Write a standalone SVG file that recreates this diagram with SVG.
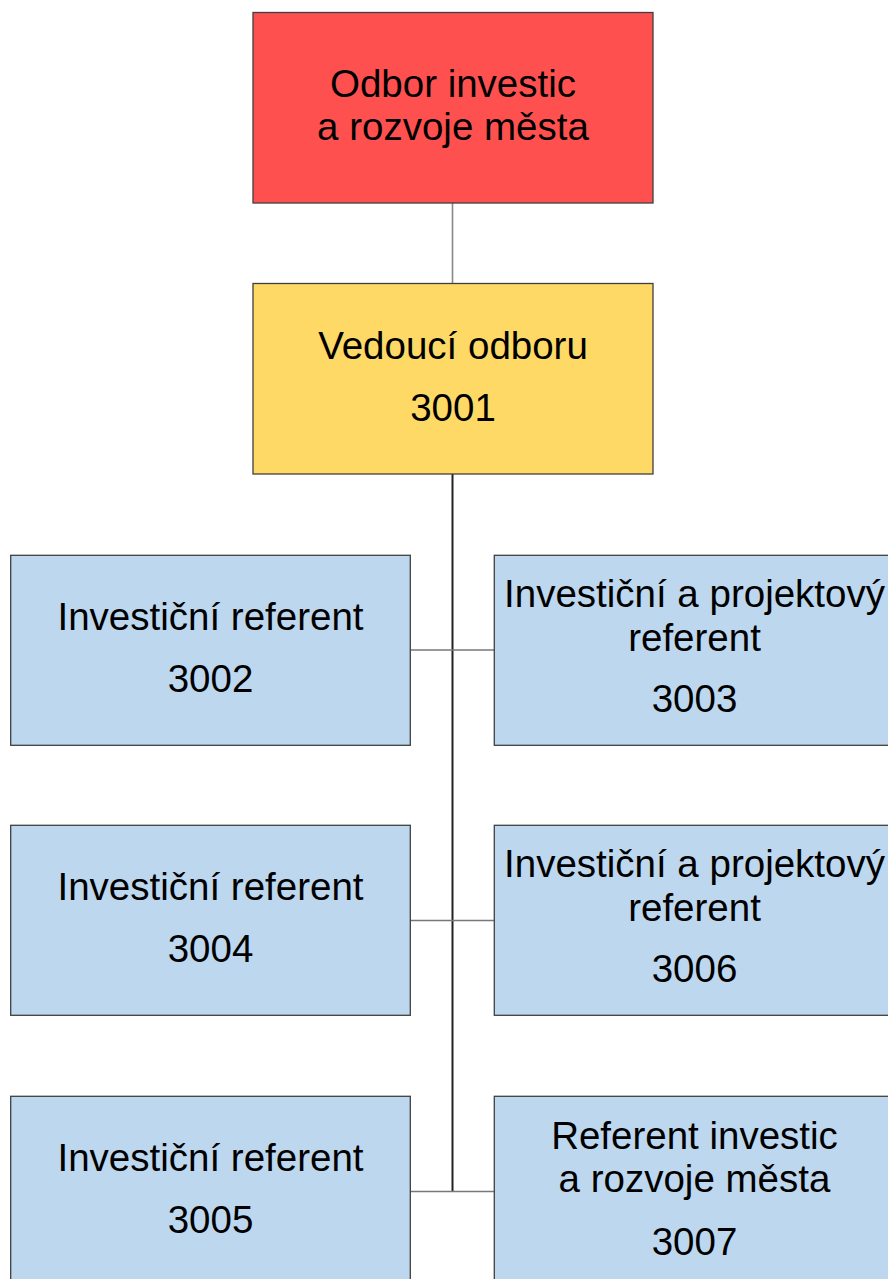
<svg xmlns="http://www.w3.org/2000/svg" width="888" height="1279" viewBox="0 0 888 1279">
<style>
.box{stroke:#3f3f3f;stroke-width:1.3}
.red{fill:#FF5050}
.yel{fill:#FFD966}
.blue{fill:#BDD7EE}
text{font-family:"Liberation Sans",Arial,sans-serif;font-size:38.5px;fill:#000;text-anchor:middle}
.c1{stroke:#888;stroke-width:1.6;fill:none}
.c2{stroke:#222;stroke-width:2;fill:none}
.c3{stroke:#777;stroke-width:1.6;fill:none}
</style>
<rect width="888" height="1279" fill="#fff"/>
<g id="connectors">
<line class="c1" x1="452.5" y1="203" x2="452.5" y2="283"/>
<line class="c2" x1="452.5" y1="474" x2="452.5" y2="1192"/>
<line class="c3" x1="410" y1="650" x2="494" y2="650"/>
<line class="c3" x1="410" y1="920.5" x2="494" y2="920.5"/>
<line class="c3" x1="410" y1="1191.5" x2="494" y2="1191.5"/>
</g>
<g id="n3000">
<rect class="box red" x="253" y="12.5" width="400" height="190.5"/>
<text x="453" y="97">Odbor investic</text>
<text x="453" y="140">a rozvoje města</text>
</g>
<g id="n3001">
<rect class="box yel" x="253" y="283.5" width="400" height="190.5"/>
<text x="453" y="359">Vedoucí odboru</text>
<text x="453" y="421">3001</text>
</g>
<g id="n3002">
<rect class="box blue" x="10.7" y="555.3" width="399.6" height="190"/>
<text x="210.5" y="630">Investiční referent</text>
<text x="210.5" y="692">3002</text>
</g>
<g id="n3003">
<rect class="box blue" x="494.3" y="555.3" width="400" height="190"/>
<text x="694.5" y="607">Investiční a projektový</text>
<text x="694.5" y="651">referent</text>
<text x="694.5" y="712">3003</text>
</g>
<g id="n3004">
<rect class="box blue" x="10.7" y="825.3" width="399.6" height="190"/>
<text x="210.5" y="900">Investiční referent</text>
<text x="210.5" y="962">3004</text>
</g>
<g id="n3006">
<rect class="box blue" x="494.3" y="825.3" width="400" height="190"/>
<text x="694.5" y="877">Investiční a projektový</text>
<text x="694.5" y="921">referent</text>
<text x="694.5" y="982">3006</text>
</g>
<g id="n3005">
<rect class="box blue" x="10.7" y="1096.3" width="399.6" height="190"/>
<text x="210.5" y="1171">Investiční referent</text>
<text x="210.5" y="1233">3005</text>
</g>
<g id="n3007">
<rect class="box blue" x="494.3" y="1096.3" width="400" height="190"/>
<text x="694.5" y="1149">Referent investic</text>
<text x="694.5" y="1192">a rozvoje města</text>
<text x="694.5" y="1255">3007</text>
</g>
</svg>
